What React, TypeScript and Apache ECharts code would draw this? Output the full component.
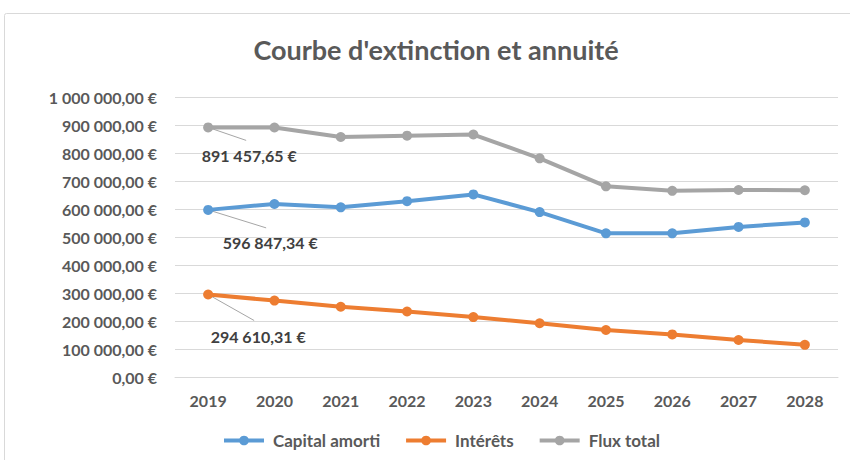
import React, { useEffect, useRef } from "react";
import * as echarts from "echarts";

const years = ["2019", "2020", "2021", "2022", "2023", "2024", "2025", "2026", "2027", "2028"];
const capitalAmorti = [596847.34, 618000, 606000, 628000, 652000, 589000, 513000, 513000, 536000, 552000];
const interets = [294610.31, 273000, 251000, 234000, 214000, 192000, 168000, 152000, 132000, 115000];
const fluxTotal = [891457.65, 891000, 857000, 862000, 866000, 781000, 681000, 665000, 668000, 667000];
const yTicks = { min: 0, max: 1000000, interval: 100000 };

const FONT = "Lato, 'Open Sans', sans-serif";

function fmtEuro(v: number): string {
  const fixed = v.toFixed(2);
  const [intPart, dec] = fixed.split(".");
  const withSp = intPart.replace(/\B(?=(\d{3})+(?!\d))/g, " ");
  return withSp + "," + dec + " €";
}

export default function App() {
  const ref = useRef<HTMLDivElement>(null);
  useEffect(() => {
    document.body.style.margin = "0";
    if (!ref.current) return;
    const chart = echarts.init(ref.current, undefined, { renderer: "svg" });
    const seriesDefs = [
      { name: "Capital amorti", data: capitalAmorti, color: "#5B9BD5", dx: 62, dy: 33, lx: 58, ly: 18 },
      { name: "Intérêts", data: interets, color: "#ED7D31", dx: 50, dy: 42, lx: 46, ly: 26 },
      { name: "Flux total", data: fluxTotal, color: "#A5A5A5", dx: 41, dy: 28, lx: 38, ly: 13 },
    ];
    const series = seriesDefs.map((s) => ({
      name: s.name,
      type: "line",
      data: s.data.map((v, i) => (i === 0 ? { value: v, label: { show: true } } : { value: v })),
      symbol: "circle",
      symbolSize: 10,
      lineStyle: { width: 4, color: s.color },
      itemStyle: { color: s.color },
      label: {
        show: false,
        position: "inside",
        formatter: (p: any) => fmtEuro(p.value),
        fontFamily: FONT,
        fontWeight: "bold",
        fontSize: 16,
        color: "#404040",
      },
      labelLayout: (p: any) => (p.dataIndex === 0 ? { dx: s.dx, dy: s.dy } : {}),
      z: 3,
    }));
    chart.setOption({
      animation: false,
      backgroundColor: "#ffffff",
      title: {
        text: "Courbe d'extinction et annuité",
        left: 431,
        textAlign: "center",
        top: 31,
        textStyle: { fontFamily: FONT, fontWeight: "bold", fontSize: 27, color: "#595959" },
      },
      grid: { left: 175, right: 12, top: 97, bottom: 83 },
      legend: {
        left: 217,
        top: 427,
        itemGap: 24,
        itemWidth: 40,
        itemHeight: 12,
        lineStyle: { width: 4 },
        textStyle: { fontFamily: FONT, fontWeight: "bold", fontSize: 17, color: "#595959", padding: [0, 0, 0, 4] },
        data: ["Capital amorti", "Intérêts", "Flux total"],
      },
      xAxis: {
        type: "category",
        data: years,
        boundaryGap: true,
        axisLine: { show: true, lineStyle: { color: "#d9d9d9" } },
        axisTick: { show: false },
        axisLabel: { fontFamily: FONT, fontWeight: "bold", fontSize: 16, color: "#595959", margin: 15 },
      },
      yAxis: {
        type: "value",
        min: yTicks.min,
        max: yTicks.max,
        interval: yTicks.interval,
        axisLine: { show: false },
        axisTick: { show: false },
        splitLine: { lineStyle: { color: "#d9d9d9", width: 1 } },
        axisLabel: {
          formatter: (v: number) => fmtEuro(v),
          fontFamily: FONT,
          fontWeight: "bold",
          fontSize: 16,
          color: "#595959",
          margin: 18,
        },
      },
      series,
    });
    const graphics: any[] = [
      {
        type: "rect",
        shape: { x: 4.5, y: 13.5, width: 900, height: 500, r: 2 },
        style: { fill: "none", stroke: "#d9d9d9", lineWidth: 1 },
        silent: true,
        z: -1,
      },
    ];
    seriesDefs.forEach((s) => {
      const pt = chart.convertToPixel({ gridIndex: 0 }, [years[0], s.data[0]]) as number[];
      graphics.push({
        type: "line",
        shape: { x1: pt[0], y1: pt[1], x2: pt[0] + s.lx, y2: pt[1] + s.ly },
        style: { stroke: "#a6a6a6", lineWidth: 1 },
        silent: true,
        z: 2,
      });
    });
    chart.setOption({ graphic: graphics });
    return () => chart.dispose();
  }, []);
  return <div ref={ref} style={{ width: 850, height: 460 }} />;
}
